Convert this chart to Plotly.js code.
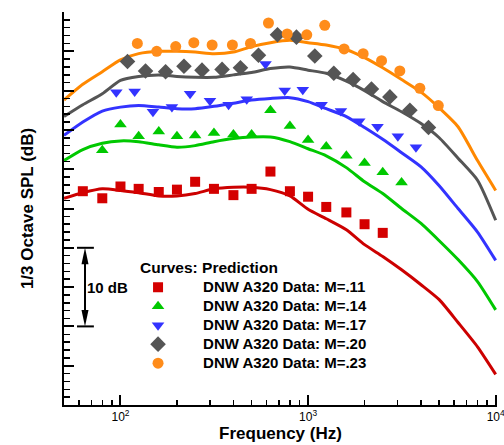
<!DOCTYPE html>
<html><head><meta charset="utf-8">
<script src="https://cdn.plot.ly/plotly-3.0.1.min.js"></script>
<style>body{margin:0;background:#fff}#chart{width:504px;height:445px}</style>
</head><body><div id="chart"></div>
<script>
// Prediction curves (dB, relative scale; 10 dB per 2 major ticks)
const curveFreq = [50,63,80,100,125,160,200,250,315,400,500,630,800,1000,1250,1600,2000,2500,3150,4000,5000,6300,8000,10000];
const predM11 = [26.3,27.0,27.5,27.3,27.0,26.6,26.6,26.9,27.5,27.7,27.7,27.4,26.6,24.9,23.7,22.3,20.4,18.9,17.2,15.3,13.4,10.5,7.4,3.9];
const predM14 = [31.1,32.5,33.3,33.6,33.5,33.1,32.8,33.0,33.5,33.9,34.1,34.1,33.5,32.6,31.7,30.2,28.4,26.9,25.0,23.1,20.9,18.5,15.7,12.1];
const predM17 = [34.3,36.0,37.4,37.9,38.1,37.9,37.7,37.7,38.0,38.4,38.8,39.0,39.1,38.6,37.7,36.7,35.3,33.8,32.1,30.3,27.9,25.0,22.0,18.4];
const predM20 = [36.7,38.2,39.6,41.3,41.8,42.0,41.8,41.7,41.7,42.0,42.3,42.8,43.0,42.6,42.2,41.2,40.0,38.6,37.3,35.8,34.0,31.4,28.6,23.5];
const predM23 = [38.8,40.8,42.4,43.9,44.7,45.0,45.0,44.9,44.7,44.9,45.6,46.1,46.4,46.1,45.8,45.2,44.2,42.9,41.4,39.8,37.8,35.4,31.1,27.3];

// DNW A320 measured data
const freqM11 = [63,80,100,125,160,200,250,315,400,500,630,800,1000,1250,1600,2000,2500];
const dataM11 = [27.2,26.3,27.8,27.5,27.1,27.4,28.4,27.5,26.7,27.5,29.7,27.2,26.5,25.2,24.5,23.0,21.9];
const freqM14 = [80,100,125,160,200,250,315,400,500,630,800,1000,1250,1600,2000,2500,3150];
const dataM14 = [32.4,35.7,34.2,34.8,34.2,34.3,34.6,34.4,34.4,37.5,35.5,33.7,32.9,31.7,30.8,29.6,28.3];
const freqM17 = [95,119,149,188,235,300,377,471,593,751,937,1180,1496,1873,2344,3010,3758];
const dataM17 = [39.8,39.9,37.3,37.9,39.6,38.7,38.2,38.9,43.4,40.0,40.1,38.2,37.4,36.1,35.4,34.2,32.8];
const freqM20 = [109,136,174,218,272,348,436,544,687,867,1086,1371,1738,2177,2729,3489,4383];
const dataM20 = [43.7,42.5,42.4,43.1,42.6,42.7,42.9,44.5,47.1,46.8,44.4,42.2,41.4,40.2,39.2,37.5,35.3];
const freqM23 = [123,156,197,246,308,395,493,615,774,984,1227,1556,1966,2464,3083,3943,4945];
const dataM23 = [46.0,45.0,45.6,46.1,45.8,45.8,46.0,48.6,47.2,47.1,48.3,45.3,44.7,43.8,42.5,40.3,38.1];

const seriesNames = ['DNW A320 Data: M=.11','DNW A320 Data: M=.14','DNW A320 Data: M=.17','DNW A320 Data: M=.20','DNW A320 Data: M=.23'];
const majorTickVals = [100,1000,10000];
const majorTickText = ['10<sup>2</sup>','10<sup>3</sup>','10<sup>4</sup>'];
const minorTickVals = [60,70,80,90,200,300,400,500,600,700,800,900,2000,3000,4000,5000,6000,7000,8000,9000];
const scaleBar = {low:10, high:20, label:'10 dB'};

const FONT = 'Liberation Sans, Arial, Helvetica, sans-serif';
const colors = ['#d40000','#00c800','#3333ff','#555555','#ff8c1a'];
const lineColors = ['#cc0000','#00c800','#3333ff','#555555','#ff8800'];
const symbols = ['square','triangle-up','triangle-down','diamond','circle'];
const sizes = [10,11,11,12,11];

const preds = [predM11,predM14,predM17,predM20,predM23];
const fx = [freqM11,freqM14,freqM17,freqM20,freqM23];
const fy = [dataM11,dataM14,dataM17,dataM20,dataM23];

const NB = '\u00a0\u00a0\u00a0\u00a0\u00a0\u00a0';
const traces = [];
preds.forEach((p,i)=>{
  traces.push({x:curveFreq, y:p, mode:'lines', line:{color:lineColors[i], width:3, shape:'spline', smoothing:0.6}, showlegend:false, hoverinfo:'skip'});
});
fx.forEach((f,i)=>{
  traces.push({x:f, y:fy[i], mode:'markers', name:'<span style="font-size:15px">'+NB+seriesNames[i]+'</span>',
    marker:{symbol:symbols[i], size:sizes[i], color:colors[i], line:{width:0}}, showlegend:true});
});

// scale bar geometry (paper x, data y)
const bx = 0.0485, bw = 0.0081, capL = 0.030, capR = 0.069, headLen = 2.1;
const shapes = [
  {type:'line', xref:'paper', yref:'y', x0:bx, x1:bx, y0:scaleBar.low+1, y1:scaleBar.high-1, line:{color:'black', width:2}},
  {type:'line', xref:'paper', yref:'y', x0:capL, x1:capR, y0:scaleBar.high, y1:scaleBar.high, line:{color:'black', width:2}},
  {type:'line', xref:'paper', yref:'y', x0:capL, x1:capR, y0:scaleBar.low, y1:scaleBar.low, line:{color:'black', width:2}},
  {type:'path', xref:'paper', yref:'y', path:`M ${bx},${scaleBar.high} L ${bx-bw},${scaleBar.high-headLen} L ${bx+bw},${scaleBar.high-headLen} Z`, fillcolor:'black', line:{width:0}},
  {type:'path', xref:'paper', yref:'y', path:`M ${bx},${scaleBar.low} L ${bx-bw},${scaleBar.low+headLen} L ${bx+bw},${scaleBar.low+headLen} Z`, fillcolor:'black', line:{width:0}}
];

const layout = {
  width:504, height:445,
  margin:{l:64, r:7, t:12, b:40},
  paper_bgcolor:'white', plot_bgcolor:'white',
  font:{family:FONT, color:'black'},
  showlegend:true,
  xaxis:{type:'log', range:[Math.log10(50),4.007], showline:true, linecolor:'black', linewidth:2,
    ticks:'inside', ticklen:10, tickwidth:2, tickcolor:'black',
    tickmode:'array', tickvals:majorTickVals, ticktext:majorTickText, ticklabeloverflow:'allow',
    tickfont:{family:FONT, size:12, color:'black'}, showgrid:false, zeroline:false,
    minor:{tickmode:'array', tickvals:minorTickVals, ticks:'inside', ticklen:5, tickwidth:1.5, tickcolor:'black', showgrid:false},
    title:{text:'Frequency (Hz)', font:{family:FONT, size:17, weight:'bold', color:'black'}, standoff:0},
    automargin:false},
  yaxis:{range:[0,50], showline:true, linecolor:'black', linewidth:2,
    ticks:'inside', ticklen:10, tickwidth:2, tickcolor:'black', tick0:0, dtick:5,
    showticklabels:false, showgrid:false, zeroline:false,
    minor:{dtick:1, ticks:'inside', ticklen:6, tickwidth:1.5, tickcolor:'black', showgrid:false},
    title:{text:'1/3 Octave SPL (dB)', font:{family:FONT, size:17, weight:'bold', color:'black'}, standoff:24},
    automargin:false},
  legend:{x:0.171, y:0.388, xanchor:'left', yanchor:'top', bgcolor:'rgba(0,0,0,0)',
    font:{family:FONT, size:11.8, weight:'bold', color:'black'},
    title:{text:'Curves: Prediction', font:{family:FONT, size:15.5, weight:'bold', color:'black'}}},
  shapes:shapes,
  annotations:[{xref:'paper', yref:'y', x:0.1016, y:(scaleBar.low+scaleBar.high)/2, text:scaleBar.label, showarrow:false,
    xanchor:'center', yanchor:'middle', font:{family:FONT, size:15, weight:'bold', color:'black'}}]
};

Plotly.newPlot('chart', traces, layout, {displayModeBar:false, staticPlot:true});
</script>
</body></html>
